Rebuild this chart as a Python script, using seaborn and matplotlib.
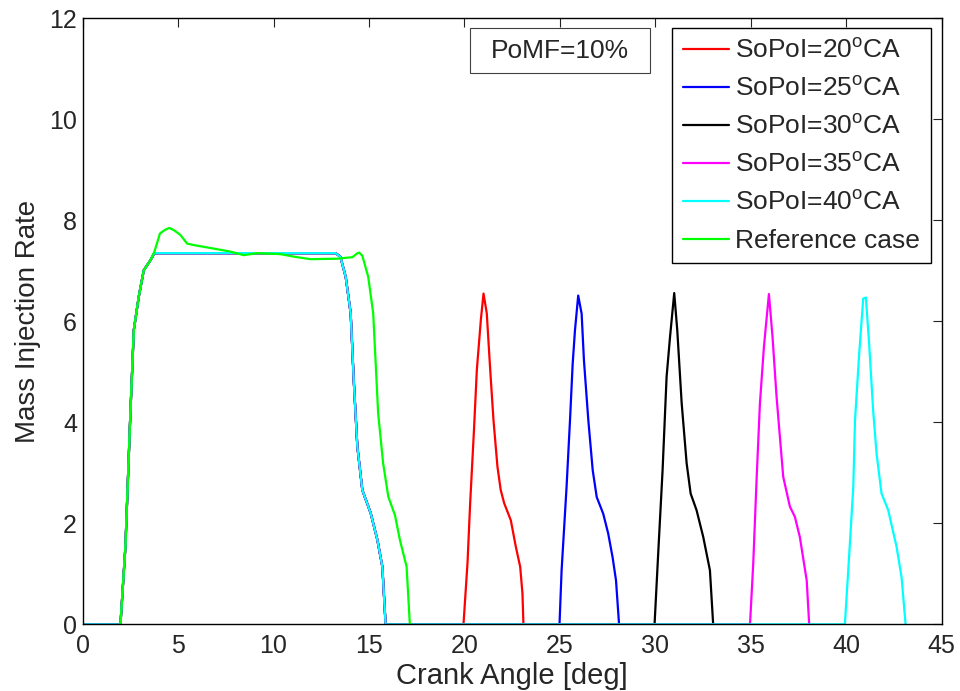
import matplotlib
matplotlib.use("Agg")
import matplotlib.pyplot as plt
import matplotlib.patches as mpatches
import seaborn as sns
import pandas as pd

# ---- data ----
main_x = [0.0, 1.98, 2.24, 2.5, 2.68, 2.94, 3.2, 3.55, 3.76, 13.25, 13.5, 13.78,
          14.04, 14.2, 14.39, 14.65, 15.09, 15.44, 15.7, 15.87]
main_y = [0.0, 0.0, 1.54, 4.18, 5.83, 6.49, 7.01, 7.21, 7.35, 7.35, 7.28, 6.88,
          6.16, 4.84, 3.52, 2.66, 2.2, 1.67, 1.14, 0.0]

post20_x = [19.95, 20.16, 20.3, 20.5, 20.65, 20.86, 21.0, 21.17, 21.35, 21.52, 21.73,
            21.9, 22.08, 22.43, 22.69, 22.92, 23.04, 23.09]
post20_y = [0.0, 1.21, 2.4, 3.85, 5.04, 6.03, 6.55, 6.16, 5.04, 4.05, 3.12,
            2.66, 2.4, 2.06, 1.54, 1.14, 0.61, 0.0]

post25_x = [24.98, 25.09, 25.35, 25.53, 25.67, 25.79, 25.96, 26.14, 26.26, 26.49,
            26.72, 26.93, 27.27, 27.53, 27.76, 27.94, 28.1]
post25_y = [0.0, 1.07, 2.72, 4.04, 5.16, 5.82, 6.51, 6.15, 5.23, 4.04,
            3.05, 2.52, 2.19, 1.8, 1.33, 0.87, 0.0]

post30_x = [29.96, 30.15, 30.38, 30.59, 30.77, 30.99, 31.15, 31.38, 31.64, 31.85,
            32.16, 32.51, 32.86, 33.03]
post30_y = [0.0, 1.4, 3.05, 4.9, 5.69, 6.56, 5.82, 4.38, 3.19, 2.59,
            2.26, 1.73, 1.07, 0.0]

post35_x = [34.96, 35.13, 35.31, 35.48, 35.69, 35.95, 36.14, 36.35, 36.7, 37.05,
            37.31, 37.57, 37.93, 38.06]
post35_y = [0.0, 1.21, 2.92, 4.38, 5.5, 6.54, 5.69, 4.51, 2.92, 2.33,
            2.13, 1.73, 0.87, 0.0]

post40_x = [39.93, 40.16, 40.37, 40.46, 40.68, 40.89, 41.03, 41.2, 41.41, 41.59,
            41.85, 42.2, 42.64, 42.9, 43.11]
post40_y = [0.0, 1.4, 2.72, 4.04, 5.36, 6.45, 6.47, 5.56, 4.24, 3.38,
            2.59, 2.26, 1.53, 0.93, 0.0]

ref_x = [1.98, 2.24, 2.5, 2.68, 2.94, 3.2, 3.55, 3.76, 4.05, 4.31, 4.54, 4.8, 5.12,
         5.47, 5.82, 6.87, 7.75, 8.44, 9.15, 10.37, 11.07, 11.94, 13.34, 14.13,
         14.4, 14.49, 14.65, 14.96, 15.22, 15.48, 15.74, 16.01, 16.36, 16.62,
         16.97, 17.14]
ref_y = [0.0, 1.54, 4.18, 5.83, 6.49, 7.01, 7.21, 7.38, 7.74, 7.81, 7.85, 7.8, 7.71,
         7.54, 7.51, 7.44, 7.38, 7.31, 7.35, 7.33, 7.28, 7.23, 7.24, 7.27,
         7.35, 7.36, 7.3, 6.88, 6.16, 4.18, 3.19, 2.53, 2.16, 1.67,
         1.14, 0.0]

labels = ["SoPoI=20$^{\\mathrm{o}}$CA", "SoPoI=25$^{\\mathrm{o}}$CA",
          "SoPoI=30$^{\\mathrm{o}}$CA", "SoPoI=35$^{\\mathrm{o}}$CA",
          "SoPoI=40$^{\\mathrm{o}}$CA", "Reference case"]
colors = ["#ff0000", "#0000ff", "#000000", "#ff00ff", "#00ffff", "#00ff00"]
posts = [(post20_x, post20_y), (post25_x, post25_y), (post30_x, post30_y),
         (post35_x, post35_y), (post40_x, post40_y)]

x_ticks = [0, 5, 10, 15, 20, 25, 30, 35, 40, 45]
y_ticks = [0, 2, 4, 6, 8, 10, 12]

# ---- style ----
sns.set_style("white")
plt.rcParams["font.family"] = ["Liberation Sans", "DejaVu Sans"]
plt.rcParams["mathtext.fontset"] = "custom"
plt.rcParams["mathtext.rm"] = "Liberation Sans"
plt.rcParams["mathtext.it"] = "Liberation Sans:italic"
plt.rcParams["mathtext.bf"] = "Liberation Sans:bold"

fig = plt.figure(figsize=(9.6, 6.91), dpi=100)
ax = fig.add_axes([0.0861, 0.0965, 0.8948, 0.877])

for (px, py), lab, col in zip(posts, labels[:5], colors[:5]):
    xs = list(main_x) + list(px)
    ys = list(main_y) + list(py)
    df = pd.DataFrame({"x": xs, "y": ys})
    sns.lineplot(data=df, x="x", y="y", ax=ax, color=col, linewidth=1.6,
                 label=lab, sort=False, estimator=None)

df_ref = pd.DataFrame({"x": ref_x, "y": ref_y})
sns.lineplot(data=df_ref, x="x", y="y", ax=ax, color=colors[5], linewidth=1.6,
             label=labels[5], sort=False, estimator=None)

ax.set_xlim(0, 45)
ax.set_ylim(0, 12)
ax.set_xticks(x_ticks)
ax.set_yticks(y_ticks)
ax.set_xticklabels([str(t) for t in x_ticks])
ax.set_yticklabels([str(t) for t in y_ticks])
ax.tick_params(axis="both", direction="in", length=6.5, width=0.8, color="#222222",
               labelsize=18, top=True, right=True)
ax.tick_params(axis="x", pad=7)
ax.tick_params(axis="y", pad=4)
for s in ax.spines.values():
    s.set_visible(True)
    s.set_color("#000000")
    s.set_linewidth(1.0)

ax.set_xlabel("Crank Angle [deg]", fontsize=21, labelpad=3)
ax.set_ylabel("Mass Injection Rate", fontsize=20, labelpad=6)

leg = ax.legend(loc="upper right", bbox_to_anchor=(0.9872, 0.9835), borderaxespad=0,
                fontsize=19, frameon=True, fancybox=False, framealpha=1,
                edgecolor="#000000", handlelength=1.77, handletextpad=0.22,
                labelspacing=0.53, borderpad=0.4)
leg.get_frame().set_linewidth(1.0)

rect = mpatches.Rectangle((0.4509, 0.9102), 0.2095, 0.0733, transform=ax.transAxes,
                          facecolor="white", edgecolor="#404040", linewidth=0.8, zorder=5)
ax.add_patch(rect)
ax.text(0.4509 + 0.2095 / 2, 0.9102 + 0.0733 / 2, "PoMF=10%", transform=ax.transAxes,
        ha="center", va="center", fontsize=19, zorder=6)

fig.savefig("out.png", dpi=100)
